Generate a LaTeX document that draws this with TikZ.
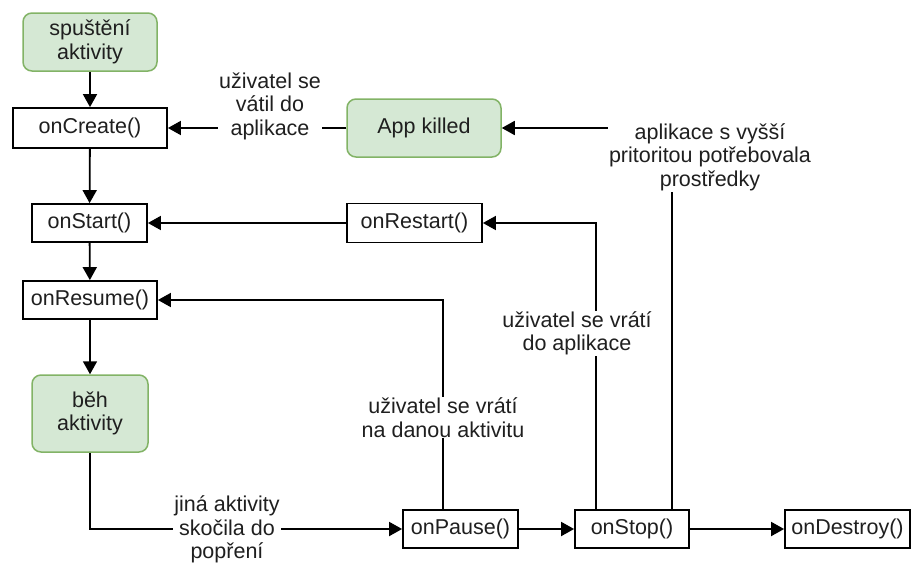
\documentclass[tikz,border=0pt]{standalone}
\usepackage{fontspec}
\setmainfont{Liberation Sans}
\usetikzlibrary{arrows.meta}
\definecolor{gfill}{HTML}{D5E8D4}
\definecolor{gline}{HTML}{82B366}
\newcommand\dfont{\fontsize{21.5}{23.5}\selectfont}
\begin{document}
\begin{tikzpicture}[x=1pt,y=-1pt,
  box/.style={draw=black, line width=1.8pt, fill=white, minimum height=38pt, inner sep=0pt, text=black!88, font=\dfont},
  gbox/.style={draw=gline, line width=1.5pt, fill=gfill, rounded corners=9pt, inner sep=0pt, text=black!88, font=\dfont, align=center},
  lbl/.style={fill=white, inner sep=1pt, text=black!88, font=\dfont, align=center},
  arr/.style={line width=1.8pt, -{Triangle[length=13pt,width=14pt]}}]
\useasboundingbox (0,0) rectangle (912,563);
% nodes
\node[gbox, minimum width=134pt, minimum height=58pt] (spust) at (90,42) {spuštění\\aktivity};
\node[box, minimum width=154pt, minimum height=40pt] (create) at (90,128) {onCreate()};
\node[box, minimum width=115pt] (start) at (89.5,223) {onStart()};
\node[box, minimum width=134pt] (resume) at (90,300) {onResume()};
\node[gbox, minimum width=116pt, minimum height=77pt] (beh) at (90,413.5) {běh\\aktivity};
\node[gbox, minimum width=154pt, minimum height=58pt] (killed) at (424,128) {App killed};
\node[box, minimum width=135pt, minimum height=39pt] (restart) at (414.5,223) {onRestart()};
\node[box, minimum width=115pt] (pause) at (460.5,529) {onPause()};
\node[box, minimum width=114pt] (stop) at (632,529) {onStop()};
\node[box, minimum width=125pt] (destroy) at (847.5,529) {onDestroy()};
% turning points
\coordinate (pup) at (443,300);
\coordinate (sup1) at (596,223);
\coordinate (sup2) at (672,128);
% connectors
\draw[arr] (spust) -- (create);
\draw[arr] (create) -- (start);
\draw[arr] (start) -- (resume);
\draw[arr] (resume) -- (beh);
\draw[arr] (beh.south) |- (pause.west);
\draw[arr] (pause) -- (stop);
\draw[arr] (stop) -- (destroy);
\draw[arr] (pause.north -| pup) |- (resume.east);
\draw[arr] (stop.north -| sup1) |- (restart.east);
\draw[arr] (stop.north -| sup2) |- (killed.east);
\draw[arr] (killed) -- (create);
\draw[arr] (restart) -- (start);
% labels
\node[lbl] (l1) at (270,106) {uživatel se\\vátil do\\aplikace};
\node[lbl] (l2) at (710,157) {aplikace s vyšší\\pritoritou potřebovala\\prostředky};
\node[lbl] (l3) at (577,333.5) {uživatel se vrátí\\do aplikace};
\node[lbl] (l4) at (443,417.5) {uživatel se vrátí\\na danou aktivitu};
\node[lbl] (l5) at (227,529.5) {jiná aktivity\\skočila do\\popření};
\end{tikzpicture}
\end{document}
